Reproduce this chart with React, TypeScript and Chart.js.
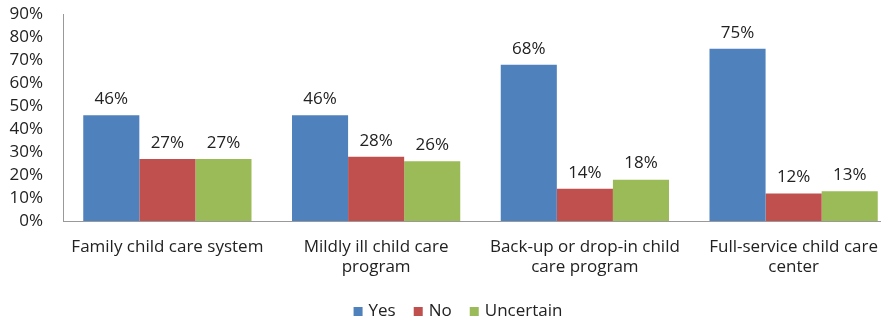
import React, { useEffect, useRef } from "react";
import { Chart, registerables } from "chart.js";

Chart.register(...registerables);

const categories: (string | string[])[] = [
  "Family child care system",
  ["Mildly ill child care", "program"],
  ["Back-up or drop-in child", "care program"],
  ["Full-service child care", "center"],
];
const yesValues = [46, 46, 68, 75];
const noValues = [27, 28, 14, 12];
const uncertainValues = [27, 26, 18, 13];
const seriesNames = ["Yes", "No", "Uncertain"];
const seriesColors = ["#4F81BD", "#C0504D", "#9BBB59"];

const FONT = "'Open Sans', sans-serif";
const FS = 17;

const labelPlugin = {
  id: "barLabels",
  afterDatasetsDraw(chart: any) {
    const ctx = chart.ctx;
    ctx.save();
    ctx.font = `${FS}px ${FONT}`;
    ctx.fillStyle = "#222";
    ctx.textAlign = "center";
    ctx.textBaseline = "middle";
    chart.data.datasets.forEach((ds: any, di: number) => {
      const meta = chart.getDatasetMeta(di);
      meta.data.forEach((bar: any, i: number) => {
        ctx.fillText(ds.data[i] + "%", bar.x, bar.y - 16);
      });
    });
    ctx.restore();
  },
};

const legendPlugin = {
  id: "customLegend",
  afterDraw(chart: any) {
    const ctx = chart.ctx;
    ctx.save();
    ctx.font = `${FS}px ${FONT}`;
    ctx.textBaseline = "middle";
    ctx.textAlign = "left";
    const box = 9;
    const gap = 6;
    const spacing = 18;
    const items = chart.data.datasets.map((ds: any) => ({
      label: ds.label,
      color: ds.backgroundColor,
      w: box + gap + ctx.measureText(ds.label).width,
    }));
    const total =
      items.reduce((a: number, it: any) => a + it.w, 0) + spacing * (items.length - 1);
    let x = chart.width / 2 - total / 2;
    const cy = chart.height - 19.5;
    items.forEach((it: any) => {
      ctx.fillStyle = it.color;
      ctx.fillRect(x, cy - box / 2, box, box);
      ctx.fillStyle = "#222";
      ctx.fillText(it.label, x + box + gap, cy);
      x += it.w + spacing;
    });
    ctx.restore();
  },
};

export default function App() {
  const ref = useRef<HTMLCanvasElement>(null);
  useEffect(() => {
    document.body.style.margin = "0";
    const values = [yesValues, noValues, uncertainValues];
    const chart = new Chart(ref.current!, {
      type: "bar",
      data: {
        labels: categories,
        datasets: seriesNames.map((name, i) => ({
          label: name,
          data: values[i],
          backgroundColor: seriesColors[i],
          borderWidth: 0,
          categoryPercentage: 0.806,
          barPercentage: 1,
        })),
      },
      options: {
        animation: false,
        responsive: false,
        maintainAspectRatio: false,
        layout: { padding: { top: 0, right: 18, left: 0, bottom: 37 } },
        plugins: {
          tooltip: { enabled: false },
          legend: { display: false },
        },
        scales: {
          x: {
            grid: { display: false, drawTicks: false },
            border: { display: true, color: "#999" },
            ticks: {
              font: { family: FONT, size: FS },
              color: "#222",
              padding: 16,
              maxRotation: 0,
              autoSkip: false,
            },
            afterFit: (s: any) => {
              s.height = 73;
            },
          },
          y: {
            min: 0,
            max: 90,
            grid: { display: false, drawTicks: false },
            border: { display: true, color: "#999" },
            ticks: {
              stepSize: 10,
              autoSkip: false,
              font: { family: FONT, size: FS },
              color: "#222",
              padding: 20,
              callback: (v: any) => v + "%",
            },
            afterFit: (s: any) => {
              s.width = 63;
            },
          },
        },
      },
      plugins: [labelPlugin, legendPlugin],
    });
    return () => chart.destroy();
  }, []);
  return (
    <div style={{ width: 881, height: 324, overflow: "hidden", position: "relative" }}>
      <canvas
        ref={ref}
        width={916}
        height={347}
        style={{ display: "block", position: "absolute", left: 0, top: -16 }}
      />
    </div>
  );
}
